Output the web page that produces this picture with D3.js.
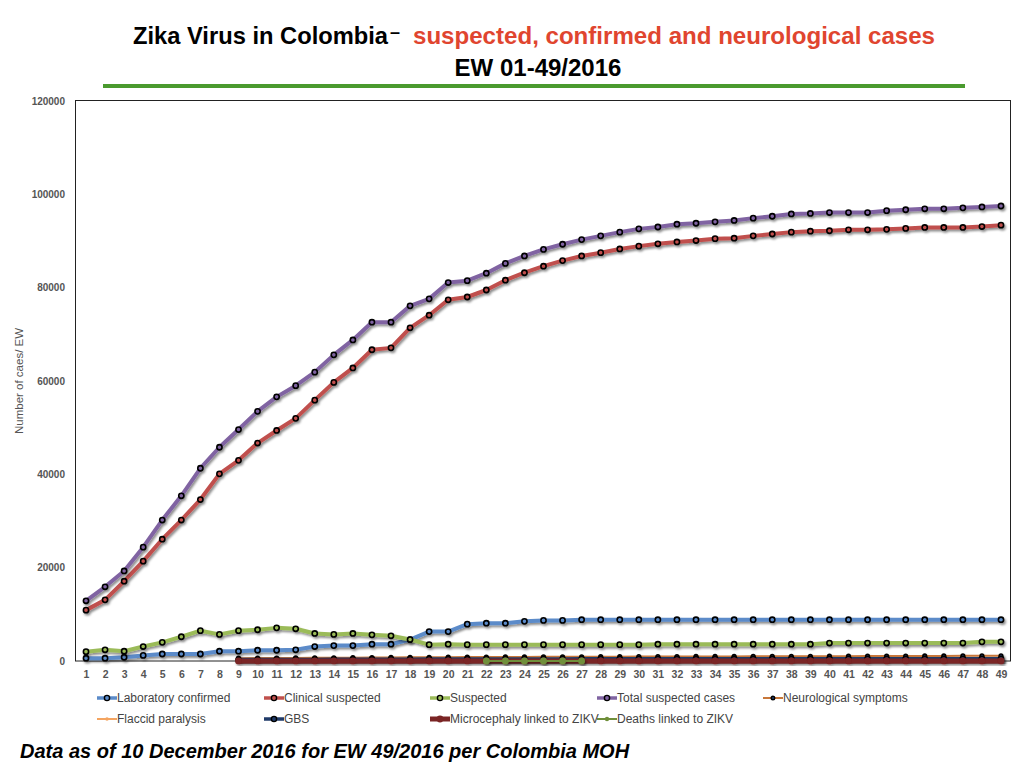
<!DOCTYPE html>
<html>
<head>
<meta charset="utf-8">
<script src="https://cdn.jsdelivr.net/npm/d3@7"></script>
<style>
  body { margin: 0; background: #fff; }
  svg { display: block; font-family: "Liberation Sans", Arial, sans-serif; }
</style>
</head>
<body>
<svg id="chart" width="1024" height="768"></svg>
<script>
// epidemiological weeks 1..49
var weeks = d3.range(1, 50);
var yTicks = [0, 20000, 40000, 60000, 80000, 100000, 120000];

var labConfirmed = [600, 600, 800, 1200, 1500, 1500, 1500, 2100, 2100, 2300,
  2300, 2400, 3100, 3300, 3300, 3600, 3600, 4600, 6300, 6300,
  7900, 8100, 8100, 8500, 8700, 8700, 8850, 8850, 8850, 8850,
  8850, 8850, 8850, 8850, 8850, 8850, 8850, 8850, 8850, 8850,
  8850, 8850, 8850, 8850, 8850, 8850, 8850, 8850, 8850];

var clinicalSuspected = [10900, 13100, 17100, 21400, 26100, 30200, 34600, 40100, 43000, 46700,
  49400, 52000, 55900, 59700, 62800, 66700, 67100, 71400, 74100, 77400,
  78000, 79500, 81600, 83200, 84600, 85800, 86800, 87500, 88300, 88900,
  89400, 89800, 90100, 90500, 90600, 91100, 91500, 91900, 92100, 92200,
  92400, 92400, 92500, 92700, 92900, 92900, 92900, 93100, 93400];

var suspected = [2000, 2400, 2100, 3100, 4000, 5200, 6500, 5700, 6500, 6700,
  7100, 6900, 5900, 5700, 5900, 5600, 5400, 4600, 3500, 3600,
  3500, 3500, 3500, 3500, 3500, 3500, 3500, 3500, 3500, 3500,
  3600, 3600, 3600, 3600, 3600, 3600, 3600, 3600, 3600, 3850,
  3850, 3850, 3850, 3850, 3850, 3850, 3850, 4100, 4100];

var totalSuspected = [12900, 15900, 19300, 24400, 30200, 35400, 41300, 45800, 49600, 53500,
  56600, 59000, 61900, 65600, 68800, 72600, 72600, 76100, 77600, 81100,
  81500, 83100, 85200, 86800, 88200, 89300, 90300, 91100, 91900, 92600,
  93000, 93600, 93800, 94100, 94400, 94900, 95300, 95800, 95900, 96100,
  96100, 96100, 96500, 96700, 96900, 96900, 97100, 97300, 97500];

// neurological series start in EW 9
var neuroSymptoms = [null, null, null, null, null, null, null, null, 600, 620,
  640, 660, 680, 700, 720, 740, 760, 780, 800, 820,
  840, 860, 870, 880, 890, 900, 910, 920, 930, 940,
  950, 960, 970, 980, 990, 1000, 1000, 1010, 1020, 1030,
  1040, 1050, 1060, 1070, 1080, 1090, 1100, 1100, 1110];

var flaccidParalysis = [null, null, null, null, null, null, null, null, 20, 20,
  20, 20, 20, 20, 20, 20, 20, 20, 20, 20,
  20, 20, 20, 20, 20, 20, 20, 20, 20, 20,
  20, 20, 20, 20, 20, 20, 20, 20, 20, 20,
  20, 20, 20, 20, 20, 20, 20, 20, 20];

var gbs = [null, null, null, null, null, null, null, null, 250, 260,
  270, 280, 290, 300, 310, 320, 330, 340, 350, 360,
  370, 380, 385, 390, 395, 400, 405, 410, 415, 420,
  420, 425, 425, 430, 430, 435, 435, 440, 440, 440,
  445, 445, 445, 450, 450, 450, 450, 455, 455];

var microcephaly = [null, null, null, null, null, null, null, null, 10, 10,
  10, 10, 10, 10, 10, 10, 10, 10, 10, 10,
  10, 10, 10, 10, 10, 10, 10, 10, 10, 10,
  10, 10, 10, 10, 10, 10, 10, 10, 10, 10,
  10, 10, 10, 10, 10, 10, 10, 10, 10];

var deaths = [null, null, null, null, null, null, null, null, null, null,
  null, null, null, null, null, null, null, null, null, null,
  null, 20, 20, 20, 20, 20, 20, null, null, null,
  null, null, null, null, null, null, null, null, null, null,
  null, null, null, null, null, null, null, null, null];

var seriesNames = ["Laboratory confirmed", "Clinical suspected", "Suspected", "Total suspected cases",
  "Neurological symptoms", "Flaccid paralysis", "GBS", "Microcephaly linked to ZIKV", "Deaths linked to ZIKV"];
var seriesValues = [labConfirmed, clinicalSuspected, suspected, totalSuspected,
  neuroSymptoms, flaccidParalysis, gbs, microcephaly, deaths];
var seriesColors = ["#5b8bc9", "#c0504d", "#9bbb59", "#8064a2",
  "#c8773a", "#f4a460", "#1f3a68", "#7a2525", "#6f8f3a"];

var svg = d3.select("#chart");

// drop shadow like the office chart
var defs = svg.append("defs");
defs.append("filter").attr("id", "shadow").attr("x", "-5%").attr("y", "-5%")
  .attr("width", "110%").attr("height", "120%")
  .append("feDropShadow").attr("dx", 1.5).attr("dy", 2).attr("stdDeviation", 1.2)
  .attr("flood-color", "#000").attr("flood-opacity", 0.45);

// title
svg.append("text").attr("x", 133).attr("y", 44)
  .attr("font-size", 24).attr("font-weight", "bold").attr("fill", "#000")
  .attr("textLength", 255).attr("lengthAdjust", "spacingAndGlyphs")
  .text("Zika Virus in Colombia");
svg.append("text").attr("x", 390).attr("y", 38)
  .attr("font-size", 18).attr("font-weight", "bold").attr("fill", "#000")
  .text("–");
svg.append("text").attr("x", 413).attr("y", 44)
  .attr("font-size", 24).attr("font-weight", "bold").attr("fill", "#e0452f")
  .attr("textLength", 522).attr("lengthAdjust", "spacingAndGlyphs")
  .text("suspected, confirmed and neurological cases");

svg.append("text").attr("x", 538).attr("y", 76).attr("text-anchor", "middle")
  .attr("font-size", 24).attr("font-weight", "bold").text("EW 01-49/2016");

svg.append("rect").attr("x", 103).attr("y", 84).attr("width", 862).attr("height", 4)
  .attr("fill", "#4a9a2e");

// scales
var x = d3.scaleLinear().domain([1, 49]).range([86, 1001]);
var y = d3.scaleLinear().domain([0, 120000]).range([661, 101]);

svg.append("rect").attr("x", 75.5).attr("y", 100.5).attr("width", 935).attr("height", 560.5)
  .attr("fill", "none").attr("stroke", "#222").attr("stroke-width", 1);

var yAxis = svg.append("g").attr("transform", "translate(68,0)")
  .call(d3.axisLeft(y).tickValues(yTicks).tickSize(0).tickFormat(d3.format("d")));
yAxis.select(".domain").remove();
yAxis.selectAll("text").attr("font-family", "Liberation Sans, Arial, sans-serif")
  .attr("font-size", 10).attr("font-weight", "bold").attr("fill", "#555");

var xAxis = svg.append("g").attr("transform", "translate(0,668)")
  .call(d3.axisBottom(x).tickValues(weeks).tickSize(0).tickFormat(d3.format("d")));
xAxis.select(".domain").remove();
xAxis.selectAll("text").attr("font-family", "Liberation Sans, Arial, sans-serif")
  .attr("font-size", 10.5).attr("font-weight", "bold").attr("fill", "#555");

svg.append("text").attr("transform", "translate(23,381) rotate(-90)")
  .attr("text-anchor", "middle").attr("font-size", 11.5).attr("fill", "#555")
  .text("Number of caes/ EW");

// lines
var line = d3.line()
  .defined(function(d) { return d !== null; })
  .x(function(d, i) { return x(weeks[i]); })
  .y(function(d) { return y(d); });

var lineWidths = [4, 4, 4, 4, 2, 2, 4, 5, 2];
var markerR = [2.6, 2.6, 2.6, 2.6, 1.8, 1.8, 2.6, 3.4, 3.4];

seriesValues.forEach(function(vals, s) {
  var g = svg.append("g").attr("filter", "url(#shadow)");
  g.append("path").datum(vals)
    .attr("d", line)
    .attr("fill", "none")
    .attr("stroke", seriesColors[s])
    .attr("stroke-width", lineWidths[s])
    .attr("stroke-linejoin", "round");
  g.selectAll("circle")
    .data(vals.map(function(v, i) { return { v: v, w: weeks[i] }; })
      .filter(function(d) { return d.v !== null; }))
    .enter().append("circle")
    .attr("cx", function(d) { return x(d.w); })
    .attr("cy", function(d) { return y(d.v); })
    .attr("r", markerR[s])
    .attr("fill", s == 4 ? "#1f3a68" : seriesColors[s])
    .attr("stroke", s >= 7 ? seriesColors[s] : "#000")
    .attr("stroke-width", s >= 7 ? 0 : 1.6);
});

// legend
var legendX = [97, 264, 430, 597, 763, 97, 264, 430, 597];
var legendY = [698, 698, 698, 698, 698, 719, 719, 719, 719];
var legendMarkerR = [2.6, 2.6, 2.6, 2.6, 1.8, 1.8, 2.6, 3.4, 2.2];
var legend = svg.append("g");
seriesNames.forEach(function(name, s) {
  var lg = legend.append("g").attr("transform", "translate(" + legendX[s] + "," + legendY[s] + ")");
  lg.append("line").attr("x1", 0).attr("x2", 20).attr("y1", 0).attr("y2", 0)
    .attr("stroke", seriesColors[s]).attr("stroke-width", lineWidths[s] == 5 ? 5 : (lineWidths[s] < 4 ? 2 : 3.5));
  lg.append("circle").attr("cx", 10).attr("cy", 0).attr("r", legendMarkerR[s])
    .attr("fill", s == 4 ? "#1f3a68" : seriesColors[s])
    .attr("stroke", s >= 7 || s == 5 ? seriesColors[s] : "#000")
    .attr("stroke-width", s >= 7 || s == 5 ? 0 : 1.4);
  lg.append("text").attr("x", 20).attr("y", 4).attr("font-size", 12).attr("fill", "#444")
    .text(name);
});

// footnote
svg.append("text").attr("x", 20).attr("y", 758)
  .attr("font-size", 20).attr("font-weight", "bold").attr("font-style", "italic")
  .text("Data as of 10 December 2016 for EW 49/2016 per Colombia MOH");
</script>
</body>
</html>
